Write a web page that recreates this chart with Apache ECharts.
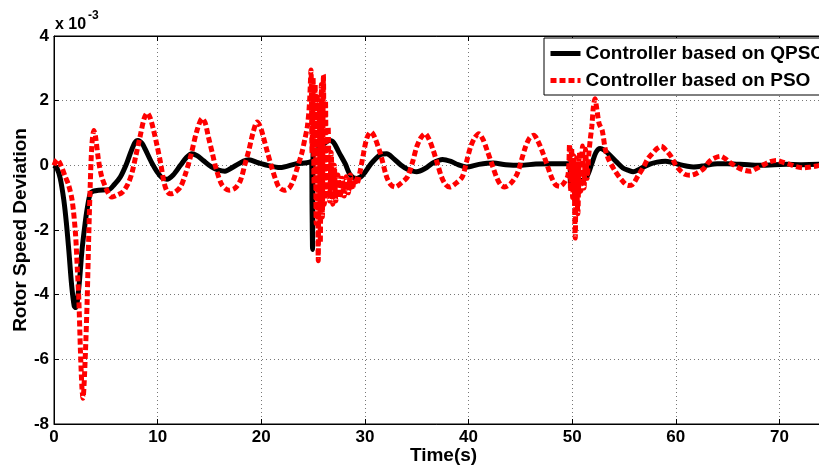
<!DOCTYPE html>
<html>
<head>
<meta charset="utf-8">
<script src="https://cdn.jsdelivr.net/npm/echarts@6/dist/echarts.min.js"></script>
<style>
html,body{margin:0;padding:0;background:#fff;}
#chart{width:819px;height:467px;}
</style>
</head>
<body>
<div id="chart"></div>
<script>
// Values are in units of 1e-3 (axis shows "x 10^-3")
const seriesNames = ['Controller based on QPSO', 'Controller based on PSO'];

const qpsoTime = [0,0.3,0.6,0.95,1.2,1.43,1.7,1.95,2.1,2.4,2.7,3.0,3.2,3.5,3.8,4.3,5.3,5.8,6.4,7.0,7.4,7.8,8.1,8.5,8.8,9.4,9.95,10.4,10.9,11.5,12.2,12.8,13.3,13.8,14.4,15.2,15.9,16.5,17.3,18.3,18.8,19.7,20.6,21.8,23.4,24.4,24.85,24.9,24.95,25.0,25.5,26.0,26.6,27.0,27.5,28.1,28.6,29.2,29.8,30.6,31.5,32.1,32.8,33.5,34.1,35.0,35.8,36.6,37.5,38.3,39.0,39.8,41.0,42.4,43.6,45.0,46.5,48.0,49.5,49.8,49.85,50.3,50.8,51.4,51.9,52.3,52.7,53.1,53.5,54.3,54.9,55.4,55.9,56.4,56.9,57.5,58.2,59.0,59.7,60.4,61.0,61.7,62.8,64.0,65.0,66.2,67.3,68.4,69.5,70.7,72.0,73.8,76,80];
const qpsoValue = [0,-0.1,-0.4,-1.08,-1.8,-2.63,-3.7,-4.35,-4.4,-3.77,-2.63,-1.8,-1.35,-0.87,-0.8,-0.77,-0.75,-0.6,-0.36,0.05,0.4,0.7,0.77,0.68,0.5,0.1,-0.2,-0.38,-0.43,-0.3,0,0.25,0.36,0.3,0.15,-0.05,-0.15,-0.18,-0.05,0.13,0.17,0.08,0,-0.07,0.05,0.08,0.12,-1.2,-2.6,0.4,0.5,0.65,0.77,0.7,0.4,0.05,-0.3,-0.41,-0.3,0.05,0.33,0.36,0.2,0,-0.12,-0.2,-0.1,0.08,0.18,0.12,0.02,-0.05,0.03,0.07,0.02,0,0.04,0.05,0.05,0.05,-0.62,-0.58,-0.5,-0.36,0.05,0.4,0.52,0.47,0.36,0.1,-0.08,-0.15,-0.2,-0.14,-0.05,0.04,0.1,0.13,0.08,0.02,-0.02,-0.05,-0.01,0.05,0.05,0.03,0.01,0,0.02,0.03,0.02,0.03,0.01,0];

const psoTime = [0,0.3,0.6,1.1,1.4,1.75,2.07,2.25,2.4,2.55,2.7,2.8,2.9,3.04,3.2,3.36,3.5,3.65,3.85,4.0,4.3,4.6,4.97,5.3,5.6,6.1,6.6,7.1,7.5,7.9,8.3,8.7,9.0,9.3,9.6,9.95,10.3,10.6,10.9,11.2,11.6,12.2,12.7,13.2,13.8,14.3,14.6,14.9,15.3,15.6,16.2,16.9,17.5,18.0,18.4,18.8,19.2,19.6,19.9,20.2,20.6,21.0,21.4,21.7,22.2,22.7,23.1,23.5,23.9,24.2,24.45,24.65,24.8,24.9,25.0,25.1,25.2,25.3,25.4,25.5,25.6,25.7,25.8,25.9,26.0,26.1,26.2,26.3,26.45,26.6,26.75,26.9,27.05,27.2,27.4,27.6,27.8,28.0,28.2,28.4,28.6,28.8,29.0,29.2,29.5,29.8,30.2,30.6,30.9,31.5,32.1,32.5,32.9,33.5,34.1,34.6,35.0,35.4,35.8,36.2,36.6,37.0,37.4,37.8,38.2,38.8,39.4,39.8,40.2,40.6,41.0,41.4,41.8,42.3,42.7,43.1,43.5,44.1,44.7,45.1,45.5,45.9,46.3,46.7,47.2,47.6,48.0,48.4,48.8,49.2,49.6,49.75,49.85,49.95,50.05,50.15,50.3,50.4,50.55,50.7,50.85,51.0,51.15,51.3,51.45,51.6,51.75,51.9,52.05,52.2,52.4,52.6,52.9,53.2,53.5,54.1,54.8,55.4,55.8,56.4,56.9,57.3,57.7,58.2,58.6,59.1,59.6,60.0,60.4,60.9,61.4,62.0,62.7,63.2,63.6,64.3,64.8,65.2,65.9,66.5,67.2,67.8,68.4,69.0,69.7,70.3,71.0,71.6,72.3,73.0,73.6,74.5,76,78,80];
const psoValue = [0,0.18,0.05,-0.36,-0.6,-1.08,-2.1,-3.2,-4.18,-5.73,-6.9,-7.2,-6.8,-5.73,-4.18,-2.1,-0.57,0.6,1.08,0.9,0.15,-0.35,-0.67,-0.9,-0.98,-0.92,-0.83,-0.6,-0.26,0.3,0.88,1.45,1.62,1.45,1.1,0.6,0.05,-0.5,-0.8,-0.88,-0.85,-0.67,-0.25,0.3,1.08,1.45,1.3,0.88,0.35,-0.05,-0.6,-0.77,-0.7,-0.46,0,0.46,1.0,1.34,1.2,0.88,0.4,-0.05,-0.45,-0.67,-0.77,-0.7,-0.46,-0.05,0.36,0.8,1.2,1.9,2.95,0.4,2.7,-0.6,2.5,-1.8,2.2,-2.95,2.0,-2.4,2.5,-1.6,2.8,-1.2,2.0,-0.9,1.2,-1.1,0.4,-1.2,0,-1.1,-0.3,-1.0,-0.4,-0.95,-0.35,-0.85,-0.3,-0.75,-0.4,-0.6,-0.25,0.25,0.85,1.03,0.9,0.36,-0.36,-0.6,-0.67,-0.55,-0.36,0.1,0.57,0.85,0.98,0.8,0.46,0.05,-0.36,-0.6,-0.67,-0.55,-0.36,0.1,0.57,0.85,0.98,0.8,0.46,0,-0.36,-0.6,-0.67,-0.55,-0.26,0.15,0.57,0.85,0.93,0.75,0.36,0,-0.36,-0.6,-0.65,-0.55,-0.3,0.65,-0.8,0.55,-1.0,0.3,-2.25,0.2,-1.5,0.4,-0.8,0.6,-0.7,0.5,-0.4,0.3,0.8,1.2,1.8,2.06,1.7,1.3,1.08,0.5,0.2,-0.15,-0.46,-0.62,-0.6,-0.3,-0.05,0.2,0.35,0.52,0.59,0.45,0.25,0,-0.15,-0.28,-0.31,-0.25,-0.1,0.1,0.2,0.28,0.2,0.1,-0.05,-0.14,-0.18,-0.1,0,0.1,0.15,0.1,0.03,-0.04,-0.08,-0.05,-0.02,0.04,0.05,0,0];

const xTicks = {min: 0, max: 80, interval: 10};
const yTicks = {min: -8, max: 4, interval: 2};
const xLabel = 'Time(s)';
const yLabel = 'Rotor Speed Deviation';
const scaleBase = 'x 10';
const scaleExp = '-3';

const FONT = '"Liberation Sans", Arial, Helvetica, sans-serif';
const chart = echarts.init(document.getElementById('chart'), null, {renderer: 'canvas'});

const gridLine = {show: true, lineStyle: {color: '#777', type: [1, 3], width: 1}};
const labelStyle = {color: '#000', fontWeight: 'bold', fontSize: 17, fontFamily: FONT};

chart.setOption({
  animation: false,
  backgroundColor: '#fff',
  grid: {left: 54, top: 36, bottom: 43, width: 829, outerBoundsMode: 'none', containLabel: false,
         show: true, borderColor: '#000', borderWidth: 1, backgroundColor: 'transparent'},
  xAxis: [{
    type: 'value', min: xTicks.min, max: xTicks.max, interval: xTicks.interval,
    axisLine: {show: true, onZero: false, lineStyle: {color: '#000', width: 1}},
    axisTick: {show: true, inside: true, length: 5, lineStyle: {color: '#000'}},
    axisLabel: Object.assign({margin: 5}, labelStyle),
    splitLine: gridLine,
    name: xLabel, nameLocation: 'middle', nameGap: 22, nameMoveOverlap: false,
    nameTextStyle: {color: '#000', fontWeight: 'bold', fontSize: 19, fontFamily: FONT, padding: [0, 50, 0, 0]}
  }, {
    type: 'value', position: 'top', min: xTicks.min, max: xTicks.max, interval: xTicks.interval,
    axisLine: {show: true, onZero: false, lineStyle: {color: '#000'}},
    axisTick: {show: true, inside: true, length: 5, lineStyle: {color: '#000'}},
    axisLabel: {show: false}, splitLine: {show: false}
  }],
  yAxis: {
    type: 'value', min: yTicks.min, max: yTicks.max, interval: yTicks.interval,
    axisLine: {show: true, onZero: false, lineStyle: {color: '#000', width: 1}},
    axisTick: {show: true, inside: true, length: 5, lineStyle: {color: '#000'}},
    axisLabel: Object.assign({margin: 5}, labelStyle),
    splitLine: gridLine,
    name: yLabel, nameLocation: 'middle', nameGap: 24, nameRotate: 90, nameMoveOverlap: false,
    nameTextStyle: {color: '#000', fontWeight: 'bold', fontSize: 19, fontFamily: FONT}
  },
  legend: {
    orient: 'vertical', left: 544, top: 38,
    backgroundColor: '#fff', borderColor: '#000', borderWidth: 1,
    padding: [6, 6, 5, 4], itemWidth: 30, itemHeight: 14, itemGap: 8,
    itemStyle: {opacity: 0},
    lineStyle: {width: 5},
    textStyle: {color: '#000', fontWeight: 'bold', fontSize: 19, lineHeight: 16, fontFamily: FONT},
    data: seriesNames
  },
  graphic: [
    {type: 'text', left: 55, top: 17, style: {text: scaleBase, fill: '#000', font: 'bold 16px ' + FONT}},
    {type: 'text', left: 88, top: 10, style: {text: scaleExp, fill: '#000', font: 'bold 12px ' + FONT}}
  ],
  series: [
    {
      name: seriesNames[0], type: 'line', xAxisIndex: 0, symbol: 'none', smooth: 0.3,
      lineStyle: {color: '#000', width: 5}, itemStyle: {color: '#000'},
      data: qpsoTime.map((t, i) => [t, qpsoValue[i]])
    },
    {
      name: seriesNames[1], type: 'line', xAxisIndex: 0, symbol: 'none', smooth: 0.3,
      lineStyle: {color: '#ff0000', width: 5, type: [6, 3]}, itemStyle: {color: '#ff0000'},
      data: psoTime.map((t, i) => [t, psoValue[i]])
    }
  ]
});
</script>
</body>
</html>
